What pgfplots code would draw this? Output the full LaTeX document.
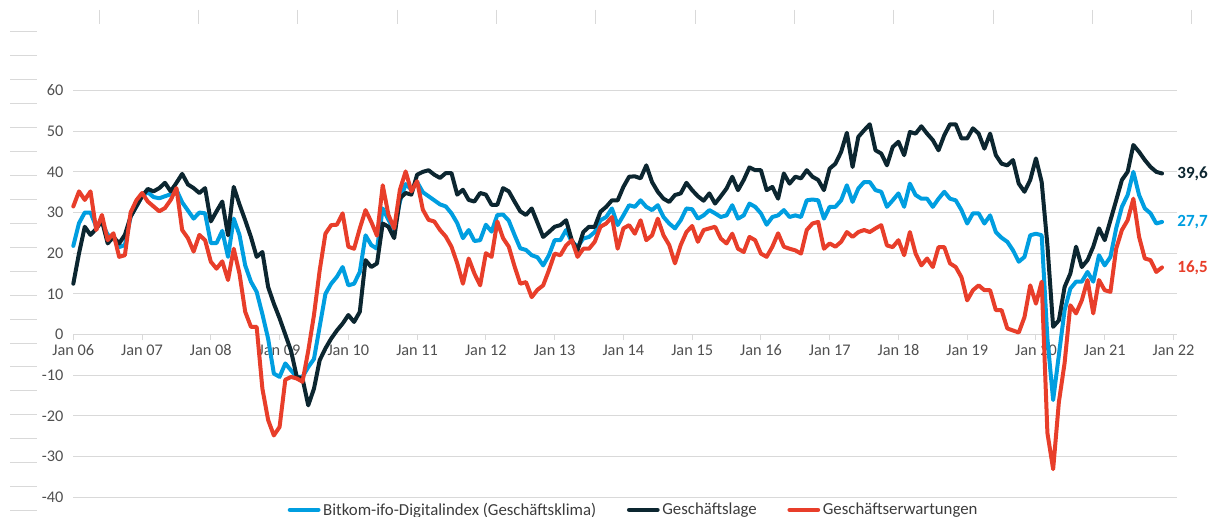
\documentclass[border=0pt]{standalone}
\usepackage{pgfplots}
\pgfplotsset{compat=1.18}
\usepackage{pgfplotstable}
\usepackage{fontspec}
\setmainfont{Carlito}
\definecolor{cK}{RGB}{0,158,224}
\definecolor{cL}{RGB}{12,38,48}
\definecolor{cE}{RGB}{232,62,42}
\definecolor{gridc}{RGB}{217,217,217}
\definecolor{txt}{RGB}{80,80,80}
\definecolor{leg}{RGB}{60,60,60}

\pgfplotstableread{
m K L E
0 21.8 12.5 31.5
1 27.4 20 35.2
2 30 26.5 33.1
3 30 24.5 35.2
4 26.5 26 25.7
5 27.5 28 29.4
6 24.5 22.4 23.2
7 24 24 24.9
8 21.5 22.4 19.1
9 22 24.5 19.5
10 29 29 30
11 31.5 31.5 33
12 34 34 34.8
13 35 35.8 32.7
14 33.8 35.2 31.5
15 33.5 36 30.3
16 34 37.3 31.1
17 34.5 35.2 33.1
18 35.6 37.3 36
19 32.5 39.5 25.7
20 30.5 36.9 23.7
21 28.5 36 20.4
22 30 34.8 24.5
23 29.8 36 23.2
24 22.5 27.8 17.9
25 22.5 30.3 16.2
26 25.5 32.7 18
27 19.1 24.4 13.4
28 28.5 36.3 21.1
29 24.5 32 15
30 17 28.1 5.6
31 13 24 1.9
32 10.5 19.1 1.9
33 5 20.3 -13.3
34 -1 11.7 -21
35 -9.6 7.6 -24.8
36 -10.4 4 -22.7
37 -7.1 0 -11.1
38 -8.8 -4 -10.4
39 -10.4 -10.4 -10.8
40 -10.4 -10.8 -11.6
41 -8 -17.4 -4
42 -6 -13.3 4.8
43 2 -6.3 15.8
44 10 -3.4 24.8
45 12.5 -1 26.9
46 14.2 1 27
47 16.6 2.7 29.8
48 12.1 4.8 21.6
49 12.5 3.1 21.1
50 15.4 5.6 26.1
51 24.4 18.3 30.6
52 22 16.6 27.7
53 21.1 17.5 24.3
54 31 27.3 36.7
55 28.2 26.5 29.4
56 25.7 23.7 26.1
57 32.7 33.5 35.6
58 37 34.8 40.1
59 35.6 34.4 35.2
60 37.5 39.3 37.7
61 35 40 30.7
62 34 40.4 28.2
63 33 39.3 27.8
64 32 38.5 25.7
65 31.5 39.7 24.1
66 29.8 39.7 21.6
67 27.4 34.4 17.5
68 23.7 35.6 12.5
69 25.7 33.1 18.7
70 23 32.7 15
71 23.2 34.8 12.1
72 27 34.4 20
73 25.3 31.9 19.1
74 29.4 31.9 27.8
75 29.5 36 23.7
76 28 35.2 21.6
77 24.5 32.7 16.8
78 21.2 30.3 12.5
79 20.8 29.4 12.9
80 19.5 31 9.2
81 19 27.5 11
82 17 24 12.1
83 19.5 25.2 15.8
84 23.2 26.5 19.9
85 23.2 26.9 19.5
86 25.7 28.1 21.9
87 22.8 23.2 23.2
88 21.6 20.7 19.1
89 23.6 25.2 21.1
90 24 26.5 21.1
91 25.2 26.5 22.8
92 28.1 30.2 26.5
93 28.9 31.4 27.3
94 31 33 28.9
95 26.9 33 21.1
96 29.3 36.3 26.1
97 31.8 38.8 26.9
98 31.4 38.9 24.8
99 33 38.4 28.1
100 31.4 41.6 23.2
101 30.6 37.5 24.4
102 31.8 35.1 28.5
103 28.9 33.4 24.4
104 27.3 32.6 22
105 26.1 34.3 17.5
106 28.1 34.7 22
107 31 37.3 25.2
108 30.8 35.5 26.7
109 28.5 34 22.8
110 29.3 32.9 25.7
111 30.6 34.7 26.1
112 29.8 32.2 26.5
113 28.9 34 23.6
114 29.3 35.9 22.4
115 31.8 38.8 24.8
116 28.5 35.5 21.1
117 29.3 38 20.3
118 32.2 41.1 24
119 31.4 40.4 23.2
120 29.8 40.4 19.9
121 27 35.5 19.1
122 28.9 36.3 21.6
123 29.3 33.4 24.9
124 30.6 39.6 21.6
125 28.9 37.1 21.1
126 29.3 38.8 20.7
127 28.9 38.4 19.9
128 33 40.4 25.7
129 33.2 38.8 27.3
130 33 38 27.7
131 28.5 35.5 21.1
132 31.4 40.8 22.4
133 31.4 42 21.6
134 33 44.9 22.8
135 36.7 49.6 25.2
136 32.6 41.2 24
137 35.9 48.6 25.2
138 37.5 50.2 25.7
139 37.5 51.7 25.2
140 35.5 45.3 26.1
141 35.1 44.5 26.9
142 31.4 41.6 21.9
143 33 46.1 21.5
144 34.7 47.4 23.2
145 31.4 44.1 19.5
146 37.1 49.8 25.2
147 34.3 49.4 19.9
148 33.4 51.2 17
149 33.4 49.4 18.7
150 31.4 47.8 16.6
151 33.4 45.3 21.5
152 35.1 49 21.5
153 33.4 51.7 17.5
154 33 51.7 16.6
155 30.6 48.2 14.1
156 27.3 48.2 8.4
157 29.8 50.7 10.9
158 29.8 49.4 12.1
159 27.3 45.7 10.9
160 29.3 49.4 10.9
161 25.2 44.1 6
162 23.8 42 6
163 22.8 41.6 1.5
164 20.7 42.9 1
165 17.9 37.1 0.5
166 19.1 35.1 4.3
167 24.4 38 12.1
168 24.8 43.3 7.6
169 24.4 37.5 13
170 -1 22 -24.2
171 -16.1 1.9 -33.1
172 -5 3.5 -16.6
173 6 11.7 -7
174 11.3 15 7.2
175 13 21.6 5.2
176 13 16.6 8.4
177 15.4 18.3 13.4
178 13 21.6 5.2
179 19.5 26.1 13.4
180 17 23.2 10.9
181 19.1 28.1 10.5
182 26.1 33 21.1
183 31.4 38 25.7
184 34.3 40 28.1
185 40 46.6 33.4
186 34.3 44.9 24
187 31 42.9 18.7
188 29.8 41.2 18.3
189 27.3 40 15.4
190 27.7 39.6 16.5
}\data

\begin{document}
\begin{tikzpicture}
\begin{axis}[
  scale only axis,
  width=827.7pt, height=305.1pt,
  at={(54.98pt,14.78pt)}, anchor=south west,
  xmin=0, xmax=192.6, ymin=-40, ymax=60,
  axis x line=middle, axis y line=left,
  hide obscured x ticks=false, hide obscured y ticks=false,
  x axis line style={-, draw=gridc, line width=1.1pt},
  y axis line style={draw=none},
  xtick={0,12,...,192},
  xticklabels={Jan 06,Jan 07,Jan 08,Jan 09,Jan 10,Jan 11,Jan 12,Jan 13,Jan 14,Jan 15,Jan 16,Jan 17,Jan 18,Jan 19,Jan 20,Jan 21,Jan 22},
  ytick={-40,-30,...,60},
  ymajorgrids,
  grid style={draw=gridc, line width=0.8pt},
  tick align=outside,
  major tick length=4pt,
  xtick style={draw=gridc, line width=0.8pt},
  ytick style={draw=none},
  ticklabel style={font=\fontsize{12.2}{14}\selectfont, text=txt},
  /pgf/number format/assume math mode=true,
  clip=false,
  legend columns=3,
  legend style={at={(0.508,-0.031)}, anchor=center, draw=none, fill=none,
    font=\fontsize{12.6}{14}\selectfont, text=leg, inner sep=0pt,
    /tikz/every even column/.append style={column sep=21pt}},
  legend image code/.code={\draw[#1, line width=3.6pt] (0pt,0pt) -- (21pt,0pt);},
  every axis plot/.append style={line width=3pt, line join=round, line cap=round},
]
\addplot[cK] table[x=m, y=K] {\data};
\addlegendentry{Bitkom-ifo-Digitalindex (Geschäftsklima)}
\addplot[cL] table[x=m, y=L] {\data};
\addlegendentry{Geschäftslage}
\addplot[cE] table[x=m, y=E] {\data};
\addlegendentry{Geschäftserwartungen}
\node[anchor=west, xshift=8pt, text=cL, font=\fontsize{12.8}{14}\selectfont\bfseries] at (axis cs:190,39.6) {39,6};
\node[anchor=west, xshift=8pt, text=cK, font=\fontsize{12.8}{14}\selectfont\bfseries] at (axis cs:190,27.7) {27,7};
\node[anchor=west, xshift=8pt, text=cE, font=\fontsize{12.8}{14}\selectfont\bfseries] at (axis cs:190,16.5) {16,5};
\end{axis}
\begin{scope}[x=0.75pt, y=-0.75pt, shift={(0pt,387.75pt)}]
  \foreach \k in {0,...,20} {
    \draw[gridc, line width=0.75pt] (10,{31.7+23.95*\k}) -- (37,{31.7+23.95*\k});
  }
  \foreach \k in {0,...,11} {
    \draw[gridc, line width=0.75pt] ({99.3+99.3*\k},10) -- ({99.3+99.3*\k},24);
  }
\end{scope}
\pgfresetboundingbox
\path (0pt,0pt) rectangle (911.25pt,387.75pt);
\end{tikzpicture}
\end{document}
